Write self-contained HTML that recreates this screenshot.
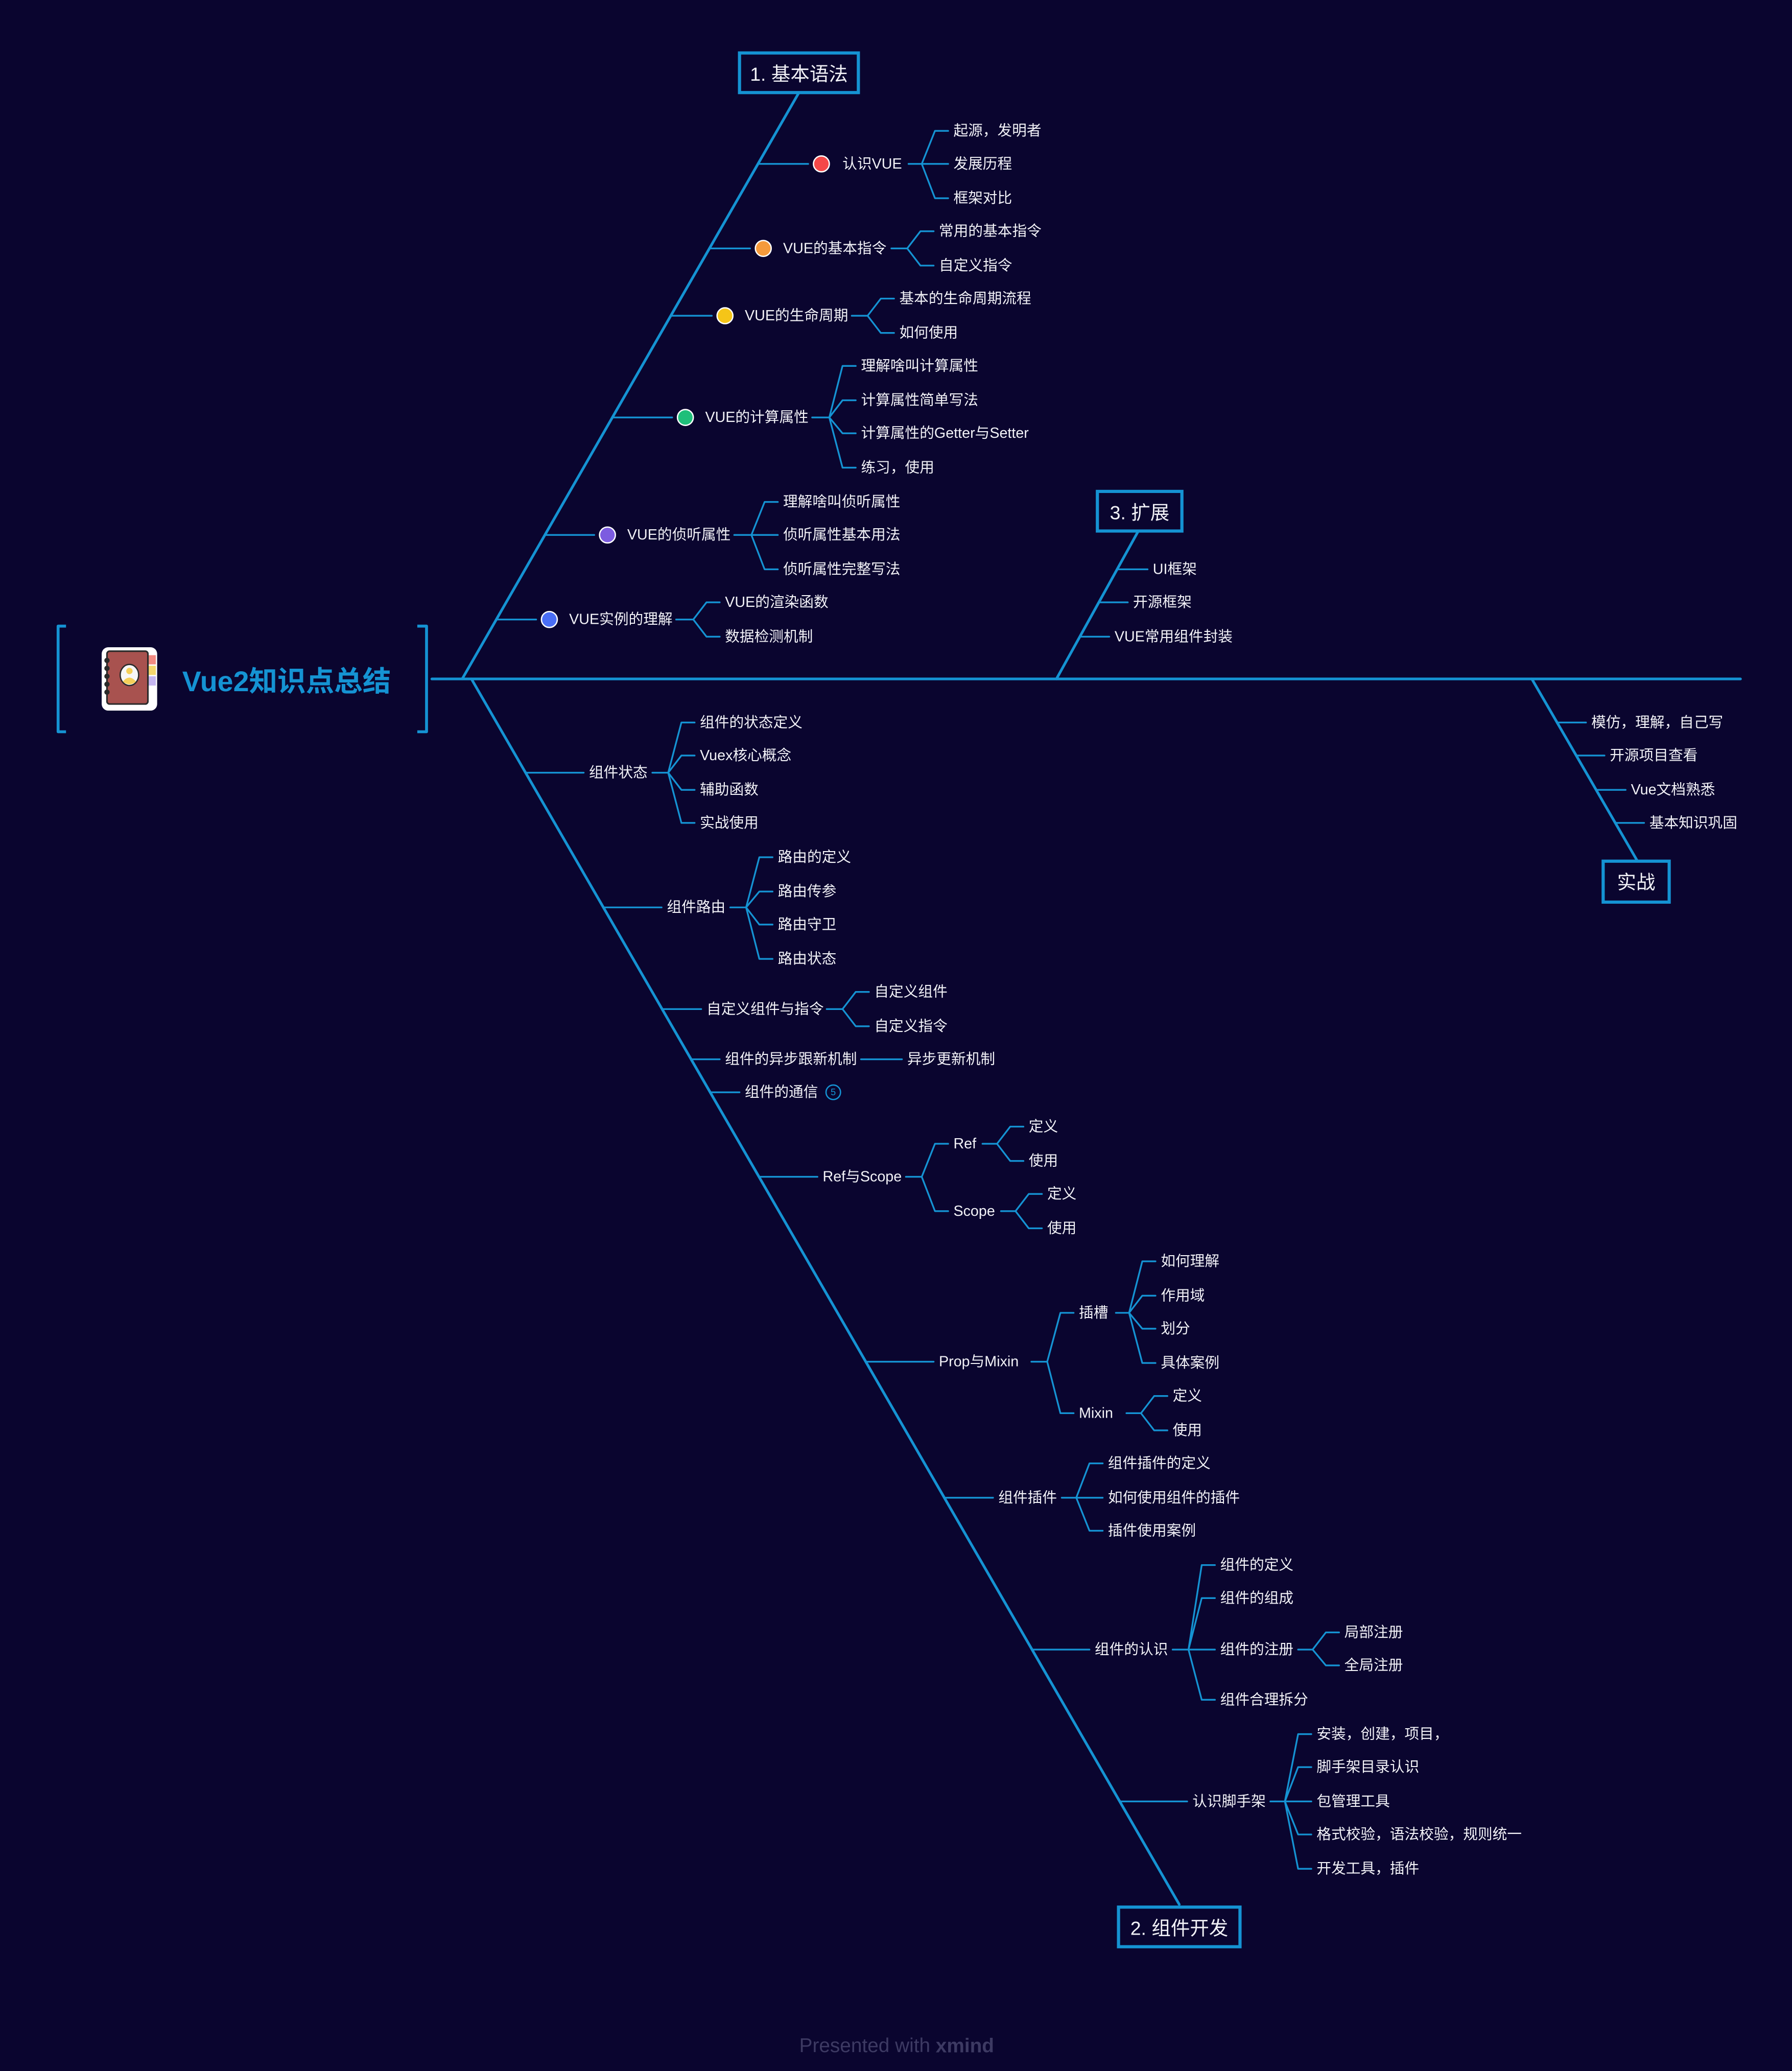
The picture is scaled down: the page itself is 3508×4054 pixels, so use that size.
<!DOCTYPE html>
<html><head><meta charset="utf-8"><style>
html,body{margin:0;padding:0;background:#0a052f;}
svg{display:block;}
text{font-family:"Liberation Sans","Noto Sans CJK SC",sans-serif;fill:#f2f2f7;font-size:11.1px;dominant-baseline:central;}
.b{font-size:14.5px;}
</style></head><body>
<svg id="s" width="3508" height="4054" viewBox="0 0 1357 1568" xmlns="http://www.w3.org/2000/svg">
<rect width="1357" height="1568" fill="#0a052f"/>
<g id="lines" stroke="#1593d3" fill="none" stroke-width="1.3" stroke-linecap="round" stroke-linejoin="round">
<path d="M327 514 H1318" stroke-width="2"/>
<path d="M350 514 L605 70" stroke-width="2"/>
<path d="M357 514 L893 1442" stroke-width="2"/>
<path d="M800 514 L862 402" stroke-width="2"/>
<path d="M1160 514 L1240 652" stroke-width="2"/>
<path d="M50 474 H44 V554 H50 M316 474 H323 V554 H316" stroke-width="2.2" stroke-linecap="butt"/>
</g>
<g fill="#0a052f" stroke="#1593d3" stroke-width="2.4">
<rect x="560" y="40" width="90" height="30"/>
<rect x="831" y="372" width="64" height="30"/>
<rect x="1214" y="652" width="50" height="31"/>
<rect x="847" y="1444" width="92" height="30"/>
</g>
<text class="b" x="605" y="56" text-anchor="middle">1. 基本语法</text>
<text class="b" x="863" y="388" text-anchor="middle">3. 扩展</text>
<text class="b" x="1239" y="668" text-anchor="middle">实战</text>
<text class="b" x="893" y="1460" text-anchor="middle">2. 组件开发</text>
<g>
<rect x="77" y="490" width="42" height="48" rx="5" fill="#fff"/>
<rect x="112" y="496" width="6" height="7" fill="#f28b82"/>
<rect x="112" y="504" width="6" height="7" fill="#f5d76e"/>
<rect x="112" y="512" width="6" height="7" fill="#c5b6f0"/>
<rect x="81" y="493" width="31" height="40" rx="2" fill="#a8524f" stroke="#2a2a2a" stroke-width="1.2"/>
<g fill="#2a2a2a"><circle cx="81" cy="500" r="2"/><circle cx="81" cy="506" r="2"/><circle cx="81" cy="512" r="2"/><circle cx="81" cy="518" r="2"/><circle cx="81" cy="524" r="2"/></g>
<ellipse cx="98" cy="511" rx="7" ry="8" fill="#f7f7f7" stroke="#2a2a2a" stroke-width="1"/>
<circle cx="98" cy="508" r="2.4" fill="#f5d05a"/>
<path d="M93 516 Q98 510 103 516 Q98 520 93 516Z" fill="#f5d05a"/>
</g>
<text x="138" y="516" style="font-size:21.5px;font-weight:bold;fill:#1593d3">Vue2知识点总结</text>

<circle cx="622" cy="124" r="6" fill="#f44848" stroke="#fff" stroke-width="1"/>
<circle cx="578" cy="188" r="6" fill="#f59a3b" stroke="#fff" stroke-width="1"/>
<circle cx="549" cy="239" r="6" fill="#f5c518" stroke="#fff" stroke-width="1"/>
<circle cx="519" cy="316" r="6" fill="#1fbf7a" stroke="#fff" stroke-width="1"/>
<circle cx="460" cy="405" r="6" fill="#7c5ce0" stroke="#fff" stroke-width="1"/>
<circle cx="416" cy="469" r="6" fill="#4a6ef5" stroke="#fff" stroke-width="1"/>
<text x="638" y="124">认识VUE</text>
<text x="722" y="99">起源，发明者</text><text x="722" y="124">发展历程</text><text x="722" y="150">框架对比</text>
<text x="593" y="188">VUE的基本指令</text>
<text x="711" y="175">常用的基本指令</text><text x="711" y="201">自定义指令</text>
<text x="564" y="239">VUE的生命周期</text>
<text x="681" y="226">基本的生命周期流程</text><text x="681" y="252">如何使用</text>
<text x="534" y="316">VUE的计算属性</text>
<text x="652" y="277">理解啥叫计算属性</text><text x="652" y="303">计算属性简单写法</text><text x="652" y="328">计算属性的Getter与Setter</text><text x="652" y="354">练习，使用</text>
<text x="475" y="405">VUE的侦听属性</text>
<text x="593" y="380">理解啥叫侦听属性</text><text x="593" y="405">侦听属性基本用法</text><text x="593" y="431">侦听属性完整写法</text>
<text x="431" y="469">VUE实例的理解</text>
<text x="549" y="456">VUE的渲染函数</text><text x="549" y="482">数据检测机制</text>
<text x="873" y="431">UI框架</text><text x="858" y="456">开源框架</text><text x="844" y="482">VUE常用组件封装</text>
<text x="1205" y="547">模仿，理解，自己写</text><text x="1219" y="572">开源项目查看</text><text x="1235" y="598">Vue文档熟悉</text><text x="1249" y="623">基本知识巩固</text>
<text x="446" y="585">组件状态</text>
<text x="530" y="547">组件的状态定义</text><text x="530" y="572">Vuex核心概念</text><text x="530" y="598">辅助函数</text><text x="530" y="623">实战使用</text>
<text x="505" y="687">组件路由</text>
<text x="589" y="649">路由的定义</text><text x="589" y="675">路由传参</text><text x="589" y="700">路由守卫</text><text x="589" y="726">路由状态</text>
<text x="535" y="764">自定义组件与指令</text>
<text x="662" y="751">自定义组件</text><text x="662" y="777">自定义指令</text>
<text x="549" y="802">组件的异步跟新机制</text><text x="687" y="802">异步更新机制</text>
<text x="564" y="827">组件的通信</text>
<circle cx="631" cy="827" r="5.5" fill="none" stroke="#1593d3" stroke-width="1"/>
<text x="631" y="827" text-anchor="middle" style="font-size:7px;fill:#1593d3">5</text>
<text x="623" y="891">Ref与Scope</text>
<text x="722" y="866">Ref</text><text x="722" y="917">Scope</text>
<text x="779" y="853">定义</text><text x="779" y="879">使用</text>
<text x="793" y="904">定义</text><text x="793" y="930">使用</text>
<text x="711" y="1031">Prop与Mixin</text>
<text x="817" y="994">插槽</text><text x="817" y="1070">Mixin</text>
<text x="879" y="955">如何理解</text><text x="879" y="981">作用域</text><text x="879" y="1006">划分</text><text x="879" y="1032">具体案例</text>
<text x="888" y="1057">定义</text><text x="888" y="1083">使用</text>
<text x="756" y="1134">组件插件</text>
<text x="839" y="1108">组件插件的定义</text><text x="839" y="1134">如何使用组件的插件</text><text x="839" y="1159">插件使用案例</text>
<text x="829" y="1249">组件的认识</text>
<text x="924" y="1185">组件的定义</text><text x="924" y="1210">组件的组成</text><text x="924" y="1249">组件的注册</text><text x="924" y="1287">组件合理拆分</text>
<text x="1018" y="1236">局部注册</text><text x="1018" y="1261">全局注册</text>
<text x="903" y="1364">认识脚手架</text>
<text x="997" y="1313">安装，创建，项目，</text><text x="997" y="1338">脚手架目录认识</text><text x="997" y="1364">包管理工具</text><text x="997" y="1389">格式校验，语法校验，规则统一</text><text x="997" y="1415">开发工具，插件</text>

<text x="679" y="1549" text-anchor="middle" style="font-size:15px;fill:#3d3a63">Presented with <tspan style="font-weight:bold">xmind</tspan></text>
</svg>
<script>
var g=document.getElementById('lines');
function P(d){var p=document.createElementNS('http://www.w3.org/2000/svg','path');p.setAttribute('d',d);g.appendChild(p);}
function s1(y,endx){var x=350+(514-y)*0.5743;P('M'+x+' '+y+' H'+endx);}
function s2(y,endx){var x=357+(y-514)*0.5776;P('M'+x+' '+y+' H'+endx);}
function s3(y,endx){var x=800+(514-y)*0.5536;P('M'+x+' '+y+' H'+endx);}
function s4(y,endx){var x=1160+(y-514)*0.5797;P('M'+x+' '+y+' H'+endx);}
function fork(sx,py,cx,ys){var fx=cx-24;var d='M'+sx+' '+py+' H'+fx;ys.forEach(function(y){if(Math.abs(y-py)<1)d+=' M'+fx+' '+py+' H'+(cx-4);else d+=' M'+fx+' '+py+' L'+(cx-14)+' '+y+' H'+(cx-4);});P(d);}
s1(124,612);s1(188,568);s1(239,539);s1(316,509);s1(405,450);s1(469,406);
fork(688,124,722,[99,124,150]);
fork(675,188,711,[175,201]);
fork(645,239,681,[226,252]);
fork(615,316,652,[277,303,328,354]);
fork(556,405,593,[380,405,431]);
fork(512,469,549,[456,482]);
s3(431,869);s3(456,854);s3(482,840);
s4(547,1201);s4(572,1215);s4(598,1231);s4(623,1245);
s2(585,442);s2(687,501);s2(764,531);s2(802,545);s2(827,560);s2(891,619);s2(1031,707);s2(1134,752);s2(1249,825);s2(1364,899);
fork(494,585,530,[547,572,598,623]);
fork(553,687,589,[649,675,700,726]);
fork(626,764,662,[751,777]);
P('M652 802 H683');
fork(686,891,722,[866,917]);
fork(744,866,779,[853,879]);
fork(758,917,793,[904,930]);
fork(781,1031,817,[994,1070]);
fork(845,994,879,[955,981,1006,1032]);
fork(853,1070,888,[1057,1083]);
fork(804,1134,839,[1108,1134,1159]);
fork(888,1249,924,[1185,1210,1249,1287]);
fork(983,1249,1018,[1236,1261]);
fork(962,1364,997,[1313,1338,1364,1389,1415]);
</script>
</body></html>
